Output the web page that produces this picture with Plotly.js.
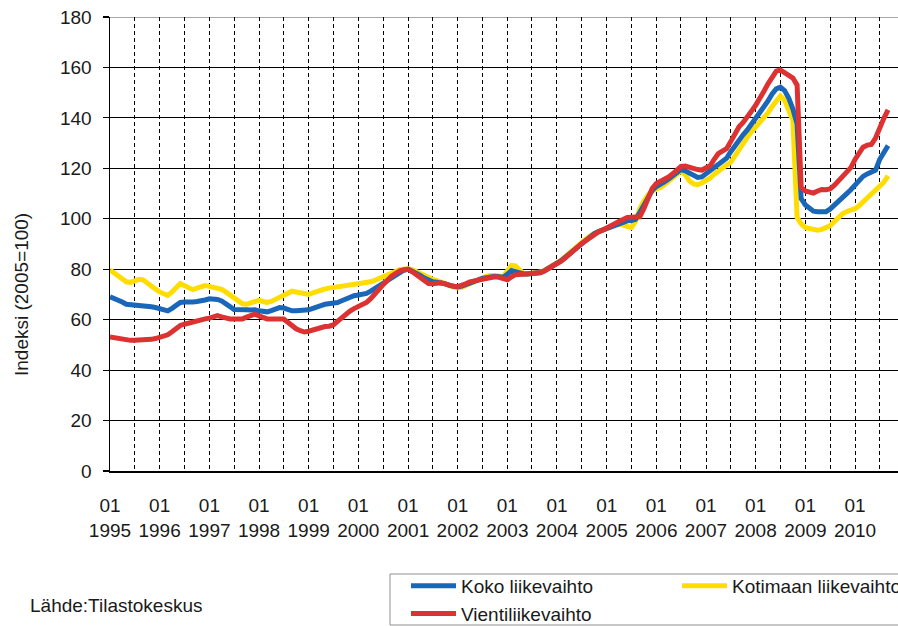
<!DOCTYPE html>
<html>
<head>
<meta charset="utf-8">
<script src="https://cdn.plot.ly/plotly-3.0.1.min.js"></script>
<style>
html,body{margin:0;padding:0;background:#fff;}
#chart{width:898px;height:626px;}
</style>
</head>
<body>
<div id="chart"></div>
<script>
// Monthly index values (2005=100), Jan 1995 .. Sep 2010
var startYear = 1995;
var koko = [
  69.1, 68.5, 67.8, 67.0, 66.1, 66.0, 65.9, 65.8, 65.7, 65.4, 65.1, 64.8,
  64.5, 64.0, 63.5, 64.5, 65.8, 66.8, 67.0, 66.8, 67.0, 67.2, 67.4, 67.8,
  68.3, 68.2, 68.0, 67.4, 66.5, 65.2, 64.0, 63.8, 63.9, 63.9, 63.8, 63.9,
  63.5, 63.2, 63.1, 63.6, 64.2, 64.8, 64.6, 64.0, 63.5, 63.5, 63.6, 63.8,
  63.9, 64.5, 65.2, 65.6, 66.1, 66.3, 66.5, 66.8, 67.5, 68.3, 69.1, 69.5,
  69.8, 70.1, 70.4, 71.3, 72.3, 73.4, 74.6, 75.8, 76.9, 78.0, 79.0, 79.6,
  80.0, 79.3, 78.3, 77.5, 76.5, 75.5, 75.0, 74.8, 74.6, 74.2, 73.6, 73.2,
  73.0, 73.3, 74.0, 74.8, 75.3, 75.8, 76.3, 76.7, 77.0, 77.2, 77.0, 76.8,
  78.0, 79.5, 79.0, 78.4, 78.1, 78.1, 78.2, 78.4, 78.7, 79.4, 80.3, 81.2,
  82.1, 83.4, 84.7, 86.1, 87.6, 89.1, 90.5, 91.8, 93.0, 94.1, 94.9, 95.5,
  96.1, 97.0, 97.7, 98.3, 98.8, 99.2, 99.3, 99.8, 102.5, 105.5, 108.5, 111.2,
  112.8, 113.6, 114.6, 115.8, 117.2, 118.6, 119.5, 119.0, 118.0, 117.0, 116.4, 116.6,
  117.8, 119.0, 120.2, 121.3, 122.5, 124.0, 126.5, 129.0, 131.3, 133.3, 135.2, 137.4,
  139.5, 141.5, 144.0, 146.7, 149.5, 151.5, 152.2, 150.8, 147.8, 143.5, 137.5, 108.0,
  105.5, 104.0, 103.0, 102.8, 102.8, 102.8, 103.8, 105.5, 107.3, 108.7, 110.0, 111.5,
  113.5, 115.3, 116.8, 117.8, 118.5, 119.3, 123.5, 126.3, 129.0
];
var kotimaan = [
  79.7, 78.5, 77.2, 76.0, 75.0, 74.8, 75.3, 76.0, 75.8, 74.8, 73.5, 72.2,
  71.0, 70.2, 69.6, 71.0, 72.8, 74.3, 73.5, 72.5, 71.9, 72.5, 73.2, 73.5,
  73.2, 72.9, 72.6, 72.0, 71.0, 69.8, 68.5, 67.3, 66.3, 66.1, 66.8, 67.5,
  67.7, 67.2, 66.8, 67.2, 68.0, 69.0, 70.0, 70.8, 71.3, 71.0, 70.5, 70.1,
  70.0, 70.6, 71.2, 71.8, 72.2, 72.5, 72.7, 73.0, 73.2, 73.4, 73.6, 73.8,
  74.0, 74.3, 74.6, 75.0, 75.6, 76.3, 77.0, 77.8, 78.6, 79.3, 79.8, 80.0,
  80.2, 79.8, 79.0, 78.3, 77.6, 76.8, 76.0, 75.5, 75.0, 74.3, 73.5, 73.0,
  72.6, 72.8, 73.5, 74.5, 75.3, 76.0, 76.6, 77.2, 77.5, 77.6, 77.3, 77.0,
  79.5, 81.5, 81.3, 79.5, 78.3, 78.2, 78.3, 78.5, 78.9, 79.5, 80.4, 81.3,
  82.3, 83.6, 85.0, 86.5, 88.0, 89.5, 90.8, 92.0, 93.2, 94.2, 95.0, 95.5,
  96.0, 96.8, 97.5, 98.0, 97.5, 96.8, 96.5, 99.0, 104.0, 107.0, 109.5, 111.0,
  111.5, 112.5, 113.5, 115.0, 116.5, 118.0, 119.0, 117.5, 115.0, 113.8, 113.5, 114.2,
  115.0, 116.2, 117.6, 119.0, 120.2, 121.3, 122.3, 125.0, 127.5, 130.2, 132.3, 134.5,
  136.5, 138.2, 139.8, 142.0, 144.5, 147.0, 148.7, 147.0, 143.0, 139.0, 100.5, 98.0,
  96.5, 96.0, 95.6, 95.5, 95.8, 96.4, 97.2, 98.8, 100.5, 102.0, 102.9, 103.4,
  104.0, 105.2, 106.6, 108.0, 109.8, 111.0, 112.4, 114.5, 117.0
];
var vienti = [
  53.1, 52.8, 52.4, 52.0, 51.8, 51.8, 51.8, 51.8, 51.8, 52.0, 52.2, 52.5,
  52.9, 53.4, 54.0, 55.2, 56.5, 57.7, 58.2, 58.7, 59.2, 59.6, 60.0, 60.3,
  60.6, 61.2, 61.6, 61.1, 60.6, 60.3, 60.3, 60.3, 60.3, 61.0, 61.8, 62.2,
  61.5, 60.8, 60.3, 60.3, 60.3, 60.3, 60.3, 59.0, 57.6, 56.4, 55.6, 55.1,
  55.4, 56.0, 56.6, 57.1, 57.3, 57.4, 57.9, 59.3, 60.8, 62.2, 63.4, 64.4,
  65.2, 66.0, 66.8, 68.3, 69.8, 72.0, 73.9, 75.8, 77.2, 78.3, 79.4, 79.8,
  80.0, 79.0, 77.8, 76.8, 75.5, 74.3, 74.2, 74.6, 74.6, 74.2, 73.6, 73.2,
  73.1, 73.5, 74.2, 75.0, 75.3, 75.6, 76.0, 76.3, 76.7, 77.0, 76.8, 76.3,
  75.8, 77.0, 77.8, 77.9, 78.0, 78.1, 78.2, 78.3, 78.6, 79.3, 80.2, 81.1,
  82.0, 83.2, 84.4, 85.7, 87.2, 88.8, 90.2, 91.5, 92.8, 94.0, 94.8, 95.5,
  96.2, 97.2, 98.0, 98.9, 99.8, 100.5, 100.6, 100.7, 100.8, 104.0, 108.5, 112.0,
  114.0, 114.8, 115.6, 116.6, 117.8, 119.3, 120.8, 120.9, 120.3, 119.8, 119.5, 119.3,
  120.0, 121.0, 123.5, 125.8, 126.8, 127.8, 130.5, 134.0, 136.5, 138.2, 140.2, 142.6,
  145.0, 147.5, 150.5, 153.5, 156.3, 158.5, 159.0, 158.0, 156.8, 155.8, 153.0, 112.5,
  111.0, 110.5, 110.2, 111.0, 111.6, 111.5, 111.8, 113.2, 115.0, 116.8, 118.3, 120.3,
  123.5, 126.6, 128.4, 129.2, 129.5, 132.0, 136.5, 139.8, 143.2
];
var seriesNames = ['Koko liikevaihto', 'Kotimaan liikevaihto', 'Vientiliikevaihto'];
var yTitle = 'Indeksi (2005=100)';
var sourceText = 'Lähde:Tilastokeskus';

function monthDates(n) {
  var out = [];
  for (var i = 0; i < n; i++) {
    var y = startYear + Math.floor(i / 12);
    var m = (i % 12) + 1;
    out.push(y + '-' + (m < 10 ? '0' + m : m) + '-01');
  }
  return out;
}
var dates = monthDates(koko.length);

var FONT = '"Liberation Sans", Arial, sans-serif';
var TXT = '#1a1a1a';

// pixel helpers for placing decorations in paper coords (plot: x 110..898, y 17..471)
function px(x) { return (x - 110) / 788; }
function py(y) { return (471 - y) / 454; }

var traces = [
  {x: dates, y: kotimaan, name: seriesNames[1], type: 'scatter', mode: 'lines',
   line: {color: '#ffdd00', width: 5}, legendrank: 2},
  {x: dates, y: koko, name: seriesNames[0], type: 'scatter', mode: 'lines',
   line: {color: '#1a67b9', width: 5}, legendrank: 1},
  {x: dates, y: vienti, name: seriesNames[2], type: 'scatter', mode: 'lines',
   line: {color: '#dc3232', width: 5}, legendrank: 3}
];

var layout = {
  width: 898, height: 626,
  margin: {l: 110, r: 0, t: 17, b: 155, autoexpand: false},
  paper_bgcolor: '#fff', plot_bgcolor: '#fff',
  font: {family: FONT, size: 19, color: TXT},
  showlegend: true,
  hovermode: false,
  xaxis: {
    type: 'date',
    range: ['1995-01-01', '2010-11-13'],
    tick0: '1995-01-01', dtick: 'M12',
    tickformat: '%m<br>%Y',
    ticks: '',
    ticklabelstandoff: 17,
    showgrid: true, gridcolor: '#000', gridwidth: 1, griddash: '4px,3px',
    minor: {dtick: 'M6', tick0: '1995-01-01', showgrid: true, gridcolor: '#000', gridwidth: 1, griddash: '4px,3px'},
    showline: true, linecolor: '#000', linewidth: 1.5,
    zeroline: false, fixedrange: true,
    tickfont: {family: FONT, size: 19, color: TXT}
  },
  yaxis: {
    range: [0, 180], dtick: 20, tick0: 0,
    ticks: 'outside', ticklen: 6, tickcolor: '#000', tickwidth: 1.2,
    ticklabelstandoff: 7,
    showgrid: true, gridcolor: '#000', gridwidth: 1.2,
    showline: true, linecolor: '#000', linewidth: 1.5,
    zeroline: false, fixedrange: true,
    tickfont: {family: FONT, size: 19, color: TXT}
  },
  shapes: [
    {type: 'line', xref: 'paper', yref: 'y', x0: 0, x1: 1, y0: 180, y1: 180,
     line: {color: '#a8a8a8', width: 2}, layer: 'below'},
    // legend frame
    {type: 'rect', xref: 'paper', yref: 'paper', x0: px(390), x1: px(905), y0: py(574), y1: py(625),
     line: {color: '#909090', width: 1}, fillcolor: 'rgba(0,0,0,0)', layer: 'above'}
  ],
  legend: {
    orientation: 'h',
    x: px(406), xanchor: 'left', xref: 'paper',
    y: py(567), yanchor: 'top', yref: 'paper',
    borderwidth: 0,
    bgcolor: 'rgba(0,0,0,0)',
    itemwidth: 45,
    entrywidth: 211,
    tracegroupgap: 0,
    font: {family: FONT, size: 19, color: TXT}
  },
  annotations: [
    {text: yTitle, xref: 'paper', yref: 'paper', x: px(21), y: py(295),
     xanchor: 'center', yanchor: 'middle', textangle: -90, showarrow: false,
     font: {family: FONT, size: 19, color: TXT}},
    {text: sourceText, xref: 'paper', yref: 'paper', x: px(28), y: py(605),
     xanchor: 'left', yanchor: 'middle', showarrow: false,
     font: {family: FONT, size: 19, color: TXT}}
  ]
};

Plotly.newPlot('chart', traces, layout, {displayModeBar: false, staticPlot: true});
</script>
</body>
</html>
